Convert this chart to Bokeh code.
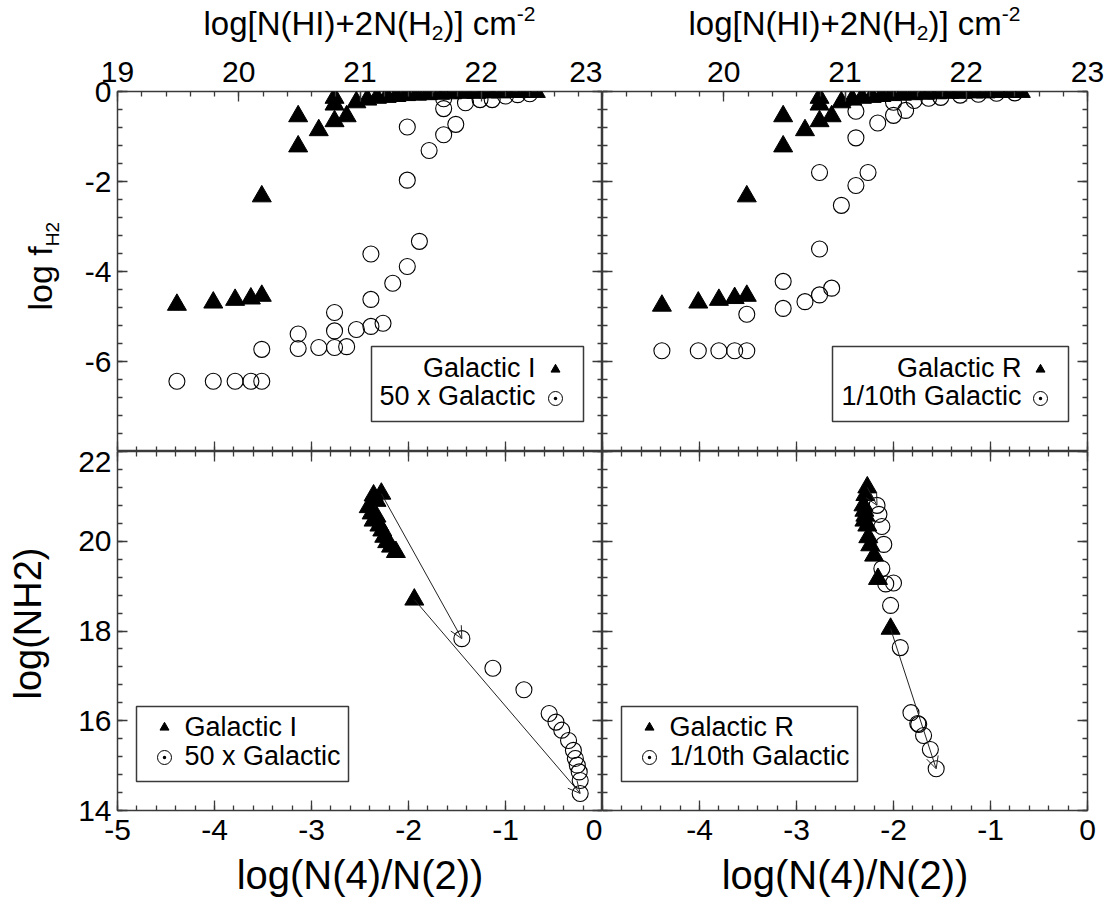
import math
import numpy as np
from bokeh.plotting import figure
from bokeh.models import (Range1d, LinearAxis, FixedTicker, Arrow, OpenHead, ColumnDataSource)
from bokeh.core.properties import value
from bokeh.layouts import column, row
from bokeh.embed import file_html
from bokeh.resources import INLINE

# ---------------- data ----------------
# upper panels: log total hydrogen column vs log molecular fraction
gal_I_logN = [19.49, 19.79, 19.97, 20.10, 20.19, 20.19, 20.49, 20.49, 20.66, 20.79, 20.79, 20.79,
              20.89, 20.97, 21.06, 21.14, 21.22, 21.30, 21.38, 21.47, 21.56, 21.66, 21.76, 21.86,
              21.96, 22.06, 22.16, 22.26, 22.36, 22.45]
gal_I_logf = [-4.74, -4.69, -4.63, -4.60, -4.54, -2.33, -1.22, -0.55, -0.86, -0.66, -0.29, -0.14,
              -0.55, -0.24, -0.18, -0.14, -0.12, -0.10, -0.08, -0.07, -0.06, -0.05, -0.04, -0.03,
              -0.03, -0.02, -0.02, -0.01, -0.01, -0.01]

x50_logN = [19.49, 19.79, 19.97, 20.10, 20.19, 20.19, 20.49, 20.49, 20.66, 20.79, 20.79, 20.79,
            20.89, 20.97, 21.09, 21.19, 21.09, 21.09, 21.27, 21.39, 21.49, 21.39, 21.39, 21.57,
            21.69, 21.79, 21.69, 21.69, 21.87, 21.99, 22.09, 22.20, 22.30, 22.40]
x50_logf = [-6.44, -6.44, -6.44, -6.44, -6.44, -5.73, -5.39, -5.71, -5.69, -5.69, -5.32, -4.91,
            -5.67, -5.29, -5.22, -5.15, -4.62, -3.61, -4.26, -3.89, -3.33, -1.97, -0.79, -1.31,
            -0.96, -0.73, -0.38, -0.16, -0.25, -0.18, -0.18, -0.10, -0.07, -0.05]

gal_R_logN = [19.49, 19.79, 19.96, 20.09, 20.19, 20.19, 20.49, 20.49, 20.67, 20.79, 20.79, 20.79,
              20.89, 20.97, 21.06, 21.14, 21.22, 21.30, 21.38, 21.47, 21.56, 21.66, 21.76, 21.86,
              21.96, 22.06, 22.16, 22.26, 22.36, 22.45]
gal_R_logf = [-4.76, -4.69, -4.63, -4.59, -4.54, -2.33, -1.22, -0.55, -0.86, -0.66, -0.29, -0.14,
              -0.55, -0.24, -0.18, -0.14, -0.12, -0.10, -0.08, -0.07, -0.06, -0.05, -0.04, -0.03,
              -0.03, -0.02, -0.02, -0.01, -0.01, -0.01]

x10_logN = [19.49, 19.79, 19.96, 20.09, 20.19, 20.19, 20.49, 20.49, 20.67, 20.79, 20.89, 20.79,
            20.79, 20.97, 21.09, 21.19, 21.09, 21.27, 21.40, 21.50, 21.09, 21.40, 21.57, 21.69,
            21.79, 21.95, 22.10, 22.25, 22.40]
x10_logf = [-5.76, -5.76, -5.76, -5.76, -5.76, -4.95, -4.82, -4.22, -4.67, -4.52, -4.37, -3.50,
            -1.80, -2.53, -2.09, -1.80, -1.03, -0.70, -0.53, -0.42, -0.44, -0.24, -0.20, -0.15,
            -0.13, -0.08, -0.06, -0.04, -0.03]

# lower panels: log(N(4)/N(2)) vs log N(H2)
gal_I_ratio = [-2.28, -2.36, -2.33, -2.41, -2.38, -2.36, -2.33, -2.30, -2.27, -2.25, -2.22,
               -2.18, -2.13, -1.94]
gal_I_nh2 = [21.06, 21.02, 20.90, 20.76, 20.62, 20.46, 20.55, 20.35, 20.24, 20.10, 19.98,
             19.88, 19.76, 18.70]
x50_ratio = [-1.45, -1.13, -0.81, -0.55, -0.48, -0.42, -0.35, -0.30, -0.28, -0.26, -0.24,
             -0.23, -0.23]
x50_nh2 = [17.83, 17.17, 16.69, 16.16, 15.97, 15.79, 15.56, 15.34, 15.16, 15.01, 14.86,
           14.67, 14.38]

gal_R_ratio = [-2.27, -2.29, -2.31, -2.30, -2.29, -2.30, -2.27, -2.26, -2.24, -2.20, -2.16, -2.03]
gal_R_nh2 = [21.20, 21.03, 20.80, 20.68, 20.57, 20.46, 20.35, 20.09, 19.91, 19.68, 19.16, 18.05]
x10_ratio = [-2.17, -2.15, -2.12, -2.10, -2.12, -2.08, -2.00, -2.03, -1.93, -1.82, -1.75,
             -1.74, -1.69, -1.62, -1.56]
x10_nh2 = [20.80, 20.60, 20.33, 19.93, 19.39, 19.05, 19.07, 18.57, 17.63, 16.18, 15.94,
           15.92, 15.67, 15.36, 14.93]

# evolution arrows (start -> end)
arrI_x0, arrI_y0, arrI_x1, arrI_y1 = [-2.28, -1.94], [21.06, 18.70], [-1.45, -0.23], [17.83, 14.38]
arrR_x0, arrR_y0, arrR_x1, arrR_y1 = [-2.27, -2.03], [21.20, 18.05], [-2.17, -1.56], [20.80, 14.93]

# axes
logN_range = (19, 23)
ratio_range = (-5, 0)
logf_range = (-8, 0)
nh2_range = (14, 22)
logN_ticks_left = [19, 20, 21, 22, 23]
logN_ticks_right = [20, 21, 22, 23]
ratio_ticks_left = [-5, -4, -3, -2, -1, 0]
ratio_ticks_right = [-4, -3, -2, -1, 0]
logf_ticks = [-6, -4, -2, 0]
nh2_ticks = [14, 16, 18, 20, 22]

# ---------------- style ----------------
FONT = "Liberation Sans"
INK = "#3a3a3a"
TICK_PX = "30px"
FW = 485
FH_TOP, FH_BOT = 360, 359
W_TOTAL, H_TOTAL = 1118, 907
TOP_STRIP, LEFT_STRIP = 46, 66
BASELINE_NUDGE = 0.37   # text glyph anchors sit a little under the alphabetic baseline

# Arial / Liberation Sans advance widths (1/1000 em)
ADV = {' ': 278, '(': 333, ')': 333, '[': 278, ']': 278, '+': 584, '-': 333, '/': 278,
       'H': 722, 'I': 278, 'N': 722, 'f': 278, 'g': 556, 'l': 222, 'o': 556, 'c': 500,
       'm': 833}
for d in "0123456789":
    ADV[d] = 556


def text_width(s, size):
    return sum(ADV.get(ch, 556) for ch in s) * size / 1000.0


def put_text(p, x, y, txt, size, angle=0.0, align="left", rng=None):
    kw = {}
    if rng:
        kw = dict(x_range_name=rng, y_range_name=rng)
    if angle:
        x -= BASELINE_NUDGE * size
    else:
        y += BASELINE_NUDGE * size
    p.text(x=[x], y=[y], text=[txt], angle=angle, text_font=value(FONT),
           text_font_size=value(f"{size}px"), text_color="black",
           text_baseline="alphabetic", text_align=align, **kw)


def rich_text(p, pieces, x0, y0, vertical=False, rng=None):
    """Pieces of (text, size, baseline shift) laid out along one line."""
    pos = 0.0
    for txt, size, dy in pieces:
        if vertical:
            put_text(p, x0 - dy, y0 + pos, txt, size, angle=math.pi / 2, rng=rng)
        else:
            put_text(p, x0 + pos, y0 + dy, txt, size, rng=rng)
        pos += text_width(txt, size)


def strip(w, h):
    s = figure(width=w, height=h, x_range=Range1d(0, w), y_range=Range1d(0, h),
               min_border=0, output_backend="svg", toolbar_location=None,
               x_axis_location=None, y_axis_location=None)
    s.grid.grid_line_color = None
    s.outline_line_color = None
    return s


def make_fig(fh, xr, yr, ml, mr, mt, mb):
    p = figure(frame_width=FW, frame_height=fh, x_range=Range1d(*xr), y_range=Range1d(*yr),
               output_backend="svg", toolbar_location=None,
               x_axis_location=None, y_axis_location=None,
               min_border_left=ml, min_border_right=mr, min_border_top=mt, min_border_bottom=mb,
               background_fill_color="white", border_fill_color="white")
    p.grid.grid_line_color = None
    p.outline_line_color = INK
    p.outline_line_width = 1.5
    p.extra_x_ranges = {"px": Range1d(0, FW)}
    p.extra_y_ranges = {"px": Range1d(0, fh)}
    return p


def add_axis(p, side, ticks, lo, hi, step, labels=True, range_name=None, title=None,
             standoff=8, title_standoff=8, title_px=40):
    minor = list(np.round(np.arange(lo, hi + step / 2, step), 4))
    ax = LinearAxis(ticker=FixedTicker(ticks=ticks, minor_ticks=minor))
    if range_name is not None:
        if side in ("above", "below"):
            ax.x_range_name = range_name
        else:
            ax.y_range_name = range_name
    ax.axis_line_color = None
    ax.major_tick_in, ax.major_tick_out = 10, 0
    ax.minor_tick_in, ax.minor_tick_out = 5, 0
    ax.major_tick_line_color = INK
    ax.minor_tick_line_color = INK
    ax.major_tick_line_width = 1.3
    ax.minor_tick_line_width = 1.3
    if labels:
        ax.major_label_overrides = {t: str(t) for t in ticks}
        ax.major_label_text_font = FONT
        ax.major_label_text_font_size = TICK_PX
        ax.major_label_text_color = "black"
        ax.major_label_standoff = standoff
    else:
        # tick marks only on the inner and shared edges
        ax.major_label_text_font_size = "0px"
        ax.major_label_text_color = None
        ax.major_label_standoff = 0
    if title:
        ax.axis_label = title
        ax.axis_label_text_font = FONT
        ax.axis_label_text_font_size = f"{title_px}px"
        ax.axis_label_text_font_style = "normal"
        ax.axis_label_text_color = "black"
        ax.axis_label_standoff = title_standoff
    p.add_layout(ax, side)
    return ax


def legend(p, box, rows, sym_x, text_x, align):
    left, right, bottom, top = box
    src = ColumnDataSource(dict(l=[left], r=[right], b=[bottom], t=[top]))
    p.quad(left="l", right="r", bottom="b", top="t", source=src, fill_color="white",
           line_color=INK, line_width=1.5, x_range_name="px", y_range_name="px")
    for label, kind, sym_y, base_y in rows:
        if kind == "tri":
            p.scatter(x=[sym_x], y=[sym_y], marker="triangle", size=9, fill_color="black",
                      line_color="black", x_range_name="px", y_range_name="px")
        else:
            p.scatter(x=[sym_x], y=[sym_y], marker="circle_dot", size=14, fill_color=None,
                      line_color="black", line_width=1, x_range_name="px", y_range_name="px")
        put_text(p, text_x, base_y, label, 27, align=align, rng="px")


def points(p, tx, ty, cx, cy):
    p.scatter(cx, cy, marker="circle", size=16, fill_color=None, line_color="black",
              line_width=1.1)
    p.scatter(tx, ty, marker="triangle", size=19, fill_color="black", line_color="black")


def arrows(p, x0, y0, x1, y1):
    src = ColumnDataSource(dict(x0=x0, y0=y0, x1=x1, y1=y1))
    p.add_layout(Arrow(end=OpenHead(size=12, line_width=1, line_color="#222222"),
                       x_start="x0", y_start="y0", x_end="x1", y_end="y1", source=src,
                       line_color="#222222", line_width=1))


# ---------------- title strips ----------------
NH_TITLE = [("log[N(HI)+2N(H", 33, 0), ("2", 21, -5), (")] cm", 33, 0), ("-2", 21, 14)]

top_strip = strip(W_TOTAL, TOP_STRIP)
rich_text(top_strip, NH_TITLE, 203, 11)
rich_text(top_strip, NH_TITLE, 688, 11)

side_h = H_TOTAL - TOP_STRIP
left_strip = strip(LEFT_STRIP, side_h)
rich_text(left_strip, [("log f", 34, 0), ("H2", 19, -7)], 52, H_TOTAL - 310, vertical=True)
put_text(left_strip, 42, H_TOTAL - 623, "log(NH2)", 38, angle=math.pi / 2, align="center")

# ---------------- upper left ----------------
ML = 117 - LEFT_STRIP
MT = 91 - TOP_STRIP
p1 = make_fig(FH_TOP, logN_range, logf_range, ML, 0, MT, 0)
p1.extra_x_ranges["ratio"] = Range1d(*ratio_range)
add_axis(p1, "above", logN_ticks_left, 19, 23, 0.2, standoff=10)
add_axis(p1, "left", logf_ticks, -8, 0, 0.4, standoff=6)
add_axis(p1, "below", ratio_ticks_left, -5, 0, 0.2, labels=False, range_name="ratio")
add_axis(p1, "right", logf_ticks, -8, 0, 0.4, labels=False)
points(p1, gal_I_logN, gal_I_logf, x50_logN, x50_logf)
legend(p1, (254, 466, 30, 105),
       [("Galactic I", "tri", 82, 74), ("50 x Galactic", "circ", 53, 46)], 438, 418, "right")

# ---------------- upper right ----------------
p2 = make_fig(FH_TOP, logN_range, logf_range, 0, 31, MT, 0)
p2.extra_x_ranges["ratio"] = Range1d(*ratio_range)
add_axis(p2, "above", logN_ticks_right, 19, 23, 0.2, standoff=10)
add_axis(p2, "left", logf_ticks, -8, 0, 0.4, labels=False)
add_axis(p2, "below", ratio_ticks_left, -5, 0, 0.2, labels=False, range_name="ratio")
add_axis(p2, "right", logf_ticks, -8, 0, 0.4, labels=False)
points(p2, gal_R_logN, gal_R_logf, x10_logN, x10_logf)
legend(p2, (230, 466, 30, 105),
       [("Galactic R", "tri", 82, 74), ("1/10th Galactic", "circ", 53, 46)], 438, 419, "right")

# ---------------- lower left ----------------
p3 = make_fig(FH_BOT, ratio_range, nh2_range, ML, 0, 0, 97)
add_axis(p3, "above", ratio_ticks_left, -5, 0, 0.2, labels=False)
add_axis(p3, "left", nh2_ticks, 14, 22, 0.4, standoff=6)
add_axis(p3, "below", ratio_ticks_left, -5, 0, 0.2, standoff=9, title="log(N(4)/N(2))",
         title_standoff=10)
add_axis(p3, "right", nh2_ticks, 14, 22, 0.4, labels=False)
points(p3, gal_I_ratio, gal_I_nh2, x50_ratio, x50_nh2)
arrows(p3, arrI_x0, arrI_y0, arrI_x1, arrI_y1)
legend(p3, (19, 231, 29, 104),
       [("Galactic I", "tri", 83, 74), ("50 x Galactic", "circ", 53, 45)], 47, 67, "left")

# ---------------- lower right ----------------
p4 = make_fig(FH_BOT, ratio_range, nh2_range, 0, 31, 0, 97)
add_axis(p4, "above", ratio_ticks_left, -5, 0, 0.2, labels=False)
add_axis(p4, "left", nh2_ticks, 14, 22, 0.4, labels=False)
add_axis(p4, "below", ratio_ticks_right, -5, 0, 0.2, standoff=9, title="log(N(4)/N(2))",
         title_standoff=10)
add_axis(p4, "right", nh2_ticks, 14, 22, 0.4, labels=False)
points(p4, gal_R_ratio, gal_R_nh2, x10_ratio, x10_nh2)
arrows(p4, arrR_x0, arrR_y0, arrR_x1, arrR_y1)
legend(p4, (19, 255, 29, 104),
       [("Galactic R", "tri", 83, 74), ("1/10th Galactic", "circ", 53, 45)], 47, 67, "left")

panels = column(row(p1, p2), row(p3, p4))
layout = column(top_strip, row(left_strip, panels))
open("out.html", "w").write(file_html(layout, INLINE))
